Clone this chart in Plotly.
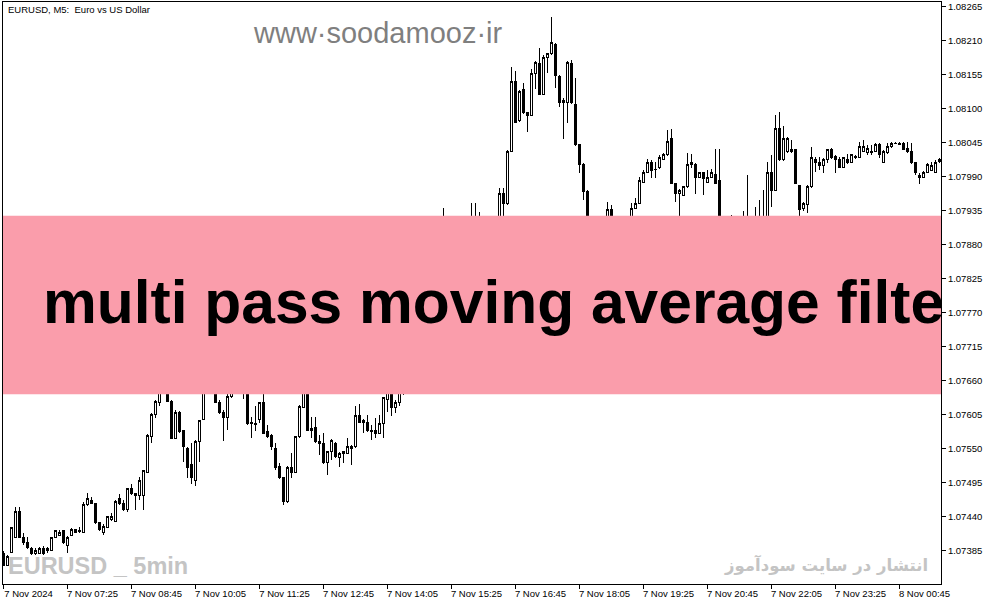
import pandas as pd
import plotly.graph_objects as go

symbol_title = "EURUSD, M5:\u00a0 Euro vs US Dollar"
start_time = "2024-11-07 06:05"

opens = [
    1.07380, 1.07362, 1.07383, 1.07407, 1.07448, 1.07406, 1.07399, 1.07389, 1.07381, 1.07381,
    1.07389, 1.07388, 1.07386, 1.07407, 1.07410, 1.07417, 1.07394, 1.07410, 1.07419, 1.07417,
    1.07415, 1.07459, 1.07467, 1.07461, 1.07430, 1.07415, 1.07423, 1.07435, 1.07433, 1.07469,
    1.07461, 1.07451, 1.07485, 1.07477, 1.07474, 1.07475, 1.07512, 1.07569, 1.07606, 1.07624,
    1.07653, 1.07672, 1.07627, 1.07567, 1.07609, 1.07579, 1.07551, 1.07524, 1.07499, 1.07561,
    1.07598, 1.07653, 1.07669, 1.07653, 1.07625, 1.07609, 1.07601, 1.07634, 1.07653, 1.07664,
    1.07653, 1.07645, 1.07593, 1.07590, 1.07598, 1.07624, 1.07577, 1.07572, 1.07550, 1.07522,
    1.07503, 1.07464, 1.07519, 1.07512, 1.07569, 1.07617, 1.07648, 1.07583, 1.07585, 1.07561,
    1.07559, 1.07527, 1.07545, 1.07559, 1.07535, 1.07543, 1.07543, 1.07554, 1.07553, 1.07604,
    1.07596, 1.07593, 1.07579, 1.07580, 1.07575, 1.07590, 1.07630, 1.07645, 1.07617, 1.07625,
    1.07645, 1.07669, 1.07693, 1.07680, 1.07718, 1.07742, 1.07729, 1.07774, 1.07806, 1.07790,
    1.07847, 1.07887, 1.07852, 1.07863, 1.07839, 1.07858, 1.07887, 1.07871, 1.07900, 1.07879,
    1.07891, 1.07863, 1.07874, 1.07887, 1.07900, 1.07963, 1.07947, 1.08031, 1.08144, 1.08080,
    1.08131, 1.08093, 1.08089, 1.08156, 1.08173, 1.08123, 1.08183, 1.08188, 1.08204, 1.08152,
    1.08112, 1.08109, 1.08173, 1.08107, 1.08041, 1.08010, 1.07966, 1.07895, 1.07871, 1.07887,
    1.07900, 1.07912, 1.07937, 1.07912, 1.07895, 1.07907, 1.07916, 1.07916, 1.07939, 1.07947,
    1.07981, 1.07997, 1.08013, 1.08002, 1.08004, 1.08018, 1.08025, 1.08052, 1.07979, 1.07963,
    1.07960, 1.07973, 1.08012, 1.08010, 1.07989, 1.07996, 1.07981, 1.07989, 1.07994, 1.07983,
    1.07887, 1.07863, 1.07879, 1.07891, 1.07874, 1.07887, 1.07900, 1.07879, 1.07871, 1.07895,
    1.07907, 1.07916, 1.07997, 1.07968, 1.08068, 1.08017, 1.08030, 1.08033, 1.08033, 1.07975,
    1.07939, 1.07945, 1.07973, 1.08018, 1.08012, 1.08007, 1.08017, 1.08033, 1.08023, 1.08018,
    1.08005, 1.08018, 1.08013, 1.08023, 1.08021, 1.08031, 1.08028, 1.08031, 1.08031, 1.08042,
    1.08013, 1.08028, 1.08038, 1.08043, 1.08042, 1.08044, 1.08036, 1.08031, 1.08012, 1.07992,
    1.07989, 1.07997, 1.08000, 1.07997, 1.08015,
]

highs = [
    1.07385, 1.07378, 1.07423, 1.07456, 1.07456, 1.07414, 1.07407, 1.07391, 1.07389, 1.07391,
    1.07393, 1.07391, 1.07407, 1.07419, 1.07419, 1.07419, 1.07409, 1.07422, 1.07420, 1.07423,
    1.07464, 1.07478, 1.07472, 1.07462, 1.07432, 1.07428, 1.07441, 1.07446, 1.07467, 1.07477,
    1.07467, 1.07486, 1.07493, 1.07478, 1.07504, 1.07516, 1.07574, 1.07608, 1.07629, 1.07669,
    1.07685, 1.07677, 1.07629, 1.07613, 1.07611, 1.07580, 1.07553, 1.07559, 1.07564, 1.07596,
    1.07661, 1.07677, 1.07677, 1.07658, 1.07629, 1.07613, 1.07640, 1.07661, 1.07674, 1.07669,
    1.07661, 1.07648, 1.07601, 1.07619, 1.07625, 1.07645, 1.07588, 1.07574, 1.07559, 1.07527,
    1.07504, 1.07522, 1.07543, 1.07571, 1.07621, 1.07664, 1.07653, 1.07601, 1.07601, 1.07572,
    1.07575, 1.07546, 1.07566, 1.07561, 1.07545, 1.07546, 1.07567, 1.07556, 1.07619, 1.07622,
    1.07598, 1.07604, 1.07588, 1.07600, 1.07604, 1.07634, 1.07653, 1.07648, 1.07629, 1.07653,
    1.07677, 1.07701, 1.07706, 1.07726, 1.07750, 1.07755, 1.07782, 1.07819, 1.07815, 1.07858,
    1.07939, 1.07895, 1.07879, 1.07871, 1.07874, 1.07900, 1.07903, 1.07947, 1.07947, 1.07933,
    1.07903, 1.07895, 1.07900, 1.07916, 1.07971, 1.07971, 1.08033, 1.08167, 1.08160, 1.08130,
    1.08141, 1.08094, 1.08164, 1.08177, 1.08198, 1.08186, 1.08190, 1.08248, 1.08206, 1.08154,
    1.08117, 1.08177, 1.08178, 1.08149, 1.08042, 1.08012, 1.07968, 1.07907, 1.07895, 1.07912,
    1.07923, 1.07949, 1.07944, 1.07920, 1.07916, 1.07923, 1.07923, 1.07947, 1.07955, 1.07989,
    1.08000, 1.08018, 1.08017, 1.08013, 1.08025, 1.08028, 1.08065, 1.08067, 1.07980, 1.07970,
    1.07975, 1.08028, 1.08026, 1.08012, 1.07997, 1.07997, 1.08000, 1.08002, 1.08034, 1.08034,
    1.07895, 1.07891, 1.07928, 1.07903, 1.07910, 1.07934, 1.07992, 1.07900, 1.07941, 1.07952,
    1.07968, 1.08013, 1.08025, 1.08089, 1.08094, 1.08072, 1.08054, 1.08049, 1.08034, 1.07976,
    1.07949, 1.07976, 1.08038, 1.08021, 1.08021, 1.08020, 1.08034, 1.08036, 1.08025, 1.08021,
    1.08021, 1.08026, 1.08026, 1.08025, 1.08046, 1.08049, 1.08041, 1.08041, 1.08044, 1.08044,
    1.08033, 1.08044, 1.08046, 1.08046, 1.08046, 1.08046, 1.08046, 1.08044, 1.08013, 1.07996,
    1.07999, 1.08012, 1.08013, 1.08017, 1.08020,
]

lows = [
    1.07360, 1.07360, 1.07381, 1.07406, 1.07406, 1.07394, 1.07388, 1.07378, 1.07378, 1.07380,
    1.07378, 1.07381, 1.07385, 1.07406, 1.07409, 1.07396, 1.07381, 1.07409, 1.07414, 1.07414,
    1.07414, 1.07457, 1.07461, 1.07428, 1.07417, 1.07410, 1.07422, 1.07433, 1.07432, 1.07459,
    1.07449, 1.07448, 1.07475, 1.07451, 1.07467, 1.07451, 1.07511, 1.07559, 1.07600, 1.07619,
    1.07645, 1.07625, 1.07566, 1.07566, 1.07575, 1.07528, 1.07503, 1.07493, 1.07490, 1.07528,
    1.07596, 1.07642, 1.07645, 1.07624, 1.07606, 1.07562, 1.07580, 1.07632, 1.07645, 1.07642,
    1.07630, 1.07588, 1.07567, 1.07579, 1.07592, 1.07574, 1.07567, 1.07548, 1.07516, 1.07501,
    1.07459, 1.07462, 1.07503, 1.07511, 1.07567, 1.07616, 1.07579, 1.07567, 1.07559, 1.07540,
    1.07525, 1.07507, 1.07532, 1.07535, 1.07520, 1.07527, 1.07541, 1.07524, 1.07551, 1.07592,
    1.07575, 1.07577, 1.07564, 1.07567, 1.07574, 1.07567, 1.07609, 1.07603, 1.07608, 1.07619,
    1.07637, 1.07661, 1.07674, 1.07677, 1.07710, 1.07722, 1.07726, 1.07766, 1.07782, 1.07787,
    1.07842, 1.07839, 1.07831, 1.07823, 1.07836, 1.07852, 1.07858, 1.07863, 1.07871, 1.07863,
    1.07852, 1.07847, 1.07858, 1.07879, 1.07894, 1.07907, 1.07944, 1.08030, 1.08076, 1.08078,
    1.08091, 1.08062, 1.08088, 1.08131, 1.08122, 1.08122, 1.08157, 1.08186, 1.08133, 1.08102,
    1.08051, 1.08076, 1.08107, 1.08039, 1.07996, 1.07952, 1.07887, 1.07858, 1.07852, 1.07874,
    1.07891, 1.07907, 1.07903, 1.07884, 1.07879, 1.07894, 1.07900, 1.07912, 1.07937, 1.07945,
    1.07979, 1.07996, 1.07988, 1.07988, 1.08002, 1.08017, 1.08023, 1.07978, 1.07949, 1.07926,
    1.07958, 1.07971, 1.08004, 1.07962, 1.07988, 1.07960, 1.07979, 1.07988, 1.07978, 1.07871,
    1.07847, 1.07852, 1.07871, 1.07863, 1.07868, 1.07879, 1.07871, 1.07858, 1.07863, 1.07887,
    1.07895, 1.07910, 1.07941, 1.07966, 1.08015, 1.08015, 1.08028, 1.08028, 1.07978, 1.07924,
    1.07934, 1.07931, 1.07971, 1.07997, 1.08000, 1.07996, 1.08012, 1.08018, 1.07996, 1.08004,
    1.08004, 1.08010, 1.08012, 1.08018, 1.08020, 1.08030, 1.08025, 1.08025, 1.08030, 1.08020,
    1.08012, 1.08026, 1.08036, 1.08042, 1.08041, 1.08033, 1.08028, 1.08010, 1.07992, 1.07978,
    1.07988, 1.07996, 1.07999, 1.07996, 1.08012,
]

closes = [
    1.07362, 1.07375, 1.07422, 1.07448, 1.07407, 1.07398, 1.07391, 1.07381, 1.07386, 1.07388,
    1.07381, 1.07385, 1.07406, 1.07417, 1.07415, 1.07398, 1.07407, 1.07420, 1.07415, 1.07416,
    1.07459, 1.07469, 1.07462, 1.07430, 1.07419, 1.07425, 1.07440, 1.07441, 1.07464, 1.07461,
    1.07451, 1.07485, 1.07477, 1.07475, 1.07499, 1.07514, 1.07572, 1.07606, 1.07627, 1.07653,
    1.07674, 1.07627, 1.07567, 1.07609, 1.07577, 1.07553, 1.07520, 1.07503, 1.07562, 1.07595,
    1.07653, 1.07669, 1.07653, 1.07625, 1.07608, 1.07601, 1.07635, 1.07653, 1.07664, 1.07653,
    1.07645, 1.07590, 1.07590, 1.07589, 1.07624, 1.07575, 1.07569, 1.07553, 1.07519, 1.07503,
    1.07464, 1.07519, 1.07512, 1.07569, 1.07619, 1.07653, 1.07580, 1.07580, 1.07561, 1.07559,
    1.07527, 1.07545, 1.07564, 1.07537, 1.07543, 1.07545, 1.07553, 1.07551, 1.07604, 1.07593,
    1.07592, 1.07579, 1.07578, 1.07575, 1.07590, 1.07632, 1.07645, 1.07616, 1.07624, 1.07645,
    1.07669, 1.07693, 1.07680, 1.07718, 1.07742, 1.07729, 1.07774, 1.07806, 1.07790, 1.07847,
    1.07887, 1.07852, 1.07863, 1.07839, 1.07858, 1.07887, 1.07871, 1.07900, 1.07879, 1.07891,
    1.07863, 1.07874, 1.07887, 1.07900, 1.07962, 1.07947, 1.08031, 1.08144, 1.08078, 1.08128,
    1.08093, 1.08089, 1.08156, 1.08175, 1.08123, 1.08183, 1.08188, 1.08206, 1.08154, 1.08109,
    1.08109, 1.08175, 1.08109, 1.08041, 1.08010, 1.07965, 1.07895, 1.07871, 1.07887, 1.07900,
    1.07916, 1.07937, 1.07912, 1.07895, 1.07907, 1.07916, 1.07923, 1.07939, 1.07947, 1.07984,
    1.07997, 1.08013, 1.07999, 1.08001, 1.08020, 1.08026, 1.08047, 1.07979, 1.07963, 1.07968,
    1.07973, 1.08009, 1.08009, 1.07988, 1.07996, 1.07986, 1.07989, 1.07996, 1.07979, 1.07887,
    1.07863, 1.07879, 1.07891, 1.07874, 1.07887, 1.07900, 1.07879, 1.07871, 1.07895, 1.07907,
    1.07916, 1.07996, 1.07968, 1.08068, 1.08017, 1.08052, 1.08051, 1.08030, 1.07979, 1.07937,
    1.07947, 1.07973, 1.08021, 1.08012, 1.08007, 1.08018, 1.08033, 1.08021, 1.08018, 1.08005,
    1.08020, 1.08012, 1.08025, 1.08020, 1.08038, 1.08039, 1.08036, 1.08028, 1.08042, 1.08025,
    1.08030, 1.08039, 1.08044, 1.08044, 1.08044, 1.08034, 1.08030, 1.08012, 1.07996, 1.07989,
    1.07997, 1.08009, 1.08007, 1.08013, 1.08017,
]

tick_times = [
    "2024-11-07 06:05", "2024-11-07 07:25", "2024-11-07 08:45", "2024-11-07 10:05",
    "2024-11-07 11:25", "2024-11-07 12:45", "2024-11-07 14:05", "2024-11-07 15:25",
    "2024-11-07 16:45", "2024-11-07 18:05", "2024-11-07 19:25", "2024-11-07 20:45",
    "2024-11-07 22:05", "2024-11-07 23:25", "2024-11-08 00:45",
]
tick_labels = [
    "7 Nov 2024", "7 Nov 07:25", "7 Nov 08:45", "7 Nov 10:05", "7 Nov 11:25",
    "7 Nov 12:45", "7 Nov 14:05", "7 Nov 15:25", "7 Nov 16:45", "7 Nov 18:05",
    "7 Nov 19:25", "7 Nov 20:45", "7 Nov 22:05", "7 Nov 23:25", "8 Nov 00:45",
]
price_ticks = [
    1.07385, 1.07440, 1.07495, 1.07550, 1.07605, 1.07660, 1.07715, 1.07770, 1.07825,
    1.07880, 1.07935, 1.07990, 1.08045, 1.08100, 1.08155, 1.08210, 1.08265,
]

times = pd.date_range(start_time, periods=len(opens), freq="5min")

# plot-area geometry (pixels) used only to place decorations
PL, PR, PT, PB = 3, 941, 2, 584


def px_x(x):
    return (x - PL) / (PR - PL)


def px_y(y):
    return (PB - y) / (PB - PT)


fig = go.Figure(
    go.Candlestick(
        x=times, open=opens, high=highs, low=lows, close=closes,
        increasing=dict(fillcolor="white", line=dict(color="black", width=1)),
        decreasing=dict(fillcolor="black", line=dict(color="black", width=1)),
        whiskerwidth=0, showlegend=False, hoverinfo="skip",
    )
)

tick_font = dict(family="Liberation Sans, Arial, sans-serif", size=9.5, color="black")

fig.update_layout(
    width=994, height=605,
    margin=dict(l=PL, r=994 - PR, t=PT, b=605 - PB),
    paper_bgcolor="white", plot_bgcolor="white",
    showlegend=False,
    boxgap=0.5,
    xaxis=dict(
        type="date",
        range=["2024-11-07 06:04:22.5", "2024-11-08 01:36:52.5"],
        rangeslider=dict(visible=False),
        showgrid=False, zeroline=False,
        showline=True, linecolor="black", linewidth=1, mirror=True,
        ticks="outside", ticklen=4, tickcolor="black", tickwidth=1,
        tickvals=tick_times, ticktext=tick_labels,
        tickfont=tick_font, ticklabelshift=25, ticklabelstandoff=-3,
    ),
    yaxis=dict(
        side="right",
        range=[1.073313, 1.082720],
        showgrid=False, zeroline=False,
        showline=True, linecolor="black", linewidth=1, mirror=True,
        ticks="outside", ticklen=4, tickcolor="black", tickwidth=1,
        tickvals=price_ticks, ticktext=[f"{v:.5f}" for v in price_ticks],
        tickfont=tick_font,
    ),
)

fig.add_shape(
    type="rect", xref="paper", yref="paper",
    x0=0.0, x1=1.0, y0=px_y(394.3), y1=px_y(215.7),
    fillcolor="#FA9DAB", line=dict(width=0), layer="above",
)

annotations = [
    dict(text=symbol_title, x=px_x(6), y=px_y(10), xanchor="left", yanchor="middle",
         font=dict(family="Liberation Sans, Arial, sans-serif", size=9.5, color="black")),
    dict(text="www·soodamooz·ir", x=px_x(378), y=px_y(33), xanchor="center", yanchor="middle",
         font=dict(family="Liberation Sans, Arial, sans-serif", size=29, color="#7f7f7f")),
    dict(text="<b>multi pass moving average filte</b>", x=px_x(41), y=px_y(302),
         xanchor="left", yanchor="middle",
         font=dict(family="Liberation Sans, Arial, sans-serif", size=60.5, color="black")),
    dict(text="<b>EURUSD _ 5min</b>", x=px_x(6), y=px_y(566), xanchor="left", yanchor="middle",
         font=dict(family="Liberation Sans, Arial, sans-serif", size=23.5, color="#c4c4c4")),
    dict(text="<b>انتشار در سایت سودآموز</b>", x=px_x(826), y=px_y(565),
         xanchor="center", yanchor="middle",
         font=dict(family="DejaVu Sans, Noto Sans, sans-serif", size=16.5, color="#c4c4c4")),
]
for a in annotations:
    fig.add_annotation(xref="paper", yref="paper", showarrow=False, **a)

fig.write_html(
    "out.html",
    config={"displayModeBar": False},
    post_script=(
        "document.body.style.margin='0';document.body.style.overflow='hidden';"
        "document.querySelectorAll('g.boxlayer path').forEach(function(p){"
        "p.style.shapeRendering='crispEdges';});"
    ),
)
